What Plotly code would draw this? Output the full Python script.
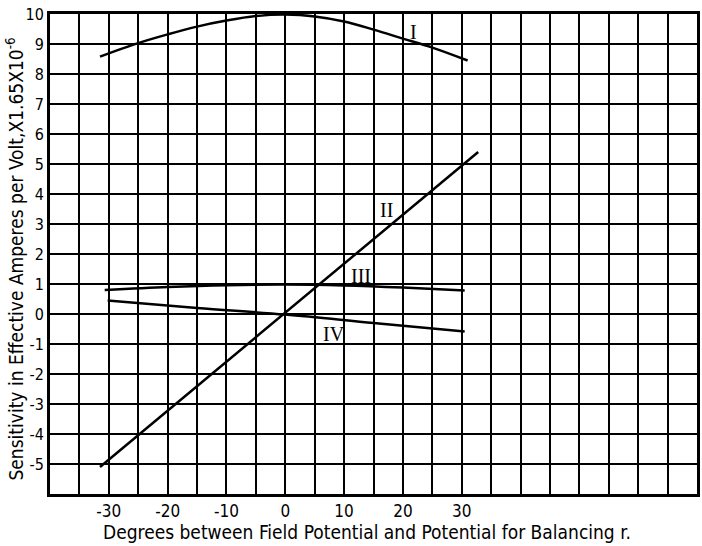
import plotly.graph_objects as go

# Sensitivity curves vs. phase angle (degrees)
curve_I_x = [-31.5, -25, -20, -15, -10, -5, 0, 5, 10, 15, 20, 25, 31]
curve_I_y = [8.58, 9.03, 9.32, 9.58, 9.78, 9.93, 9.98, 9.92, 9.75, 9.48, 9.18, 8.88, 8.45]

curve_II_x = [-31.5, 32.8]
curve_II_y = [-5.1, 5.4]

curve_III_x = [-30.7, -20, -10, 0, 10, 20, 30.5]
curve_III_y = [0.8, 0.9, 0.96, 0.98, 0.95, 0.88, 0.78]

curve_IV_x = [-30.2, -15, 0, 15, 30.5]
curve_IV_y = [0.45, 0.2, -0.02, -0.3, -0.58]

curve_names = ["I", "II", "III", "IV"]
label_x = [21.8, 17.2, 12.9, 8.2]
label_y = [9.4, 3.47, 1.28, -0.67]

x_grid = list(range(-40, 71, 5))
x_labels = {-30: "-30", -20: "-20", -10: "-10", 0: "0", 10: "10", 20: "20", 30: "30"}
y_grid = list(range(-6, 11))
y_labels = {v: str(v) for v in range(-5, 11)}

sans = "DejaVu Sans Condensed, Liberation Sans Narrow, Roboto, sans-serif"

fig = go.Figure()
for xs, ys in [(curve_I_x, curve_I_y), (curve_II_x, curve_II_y),
               (curve_III_x, curve_III_y), (curve_IV_x, curve_IV_y)]:
    fig.add_trace(go.Scatter(x=xs, y=ys, mode="lines",
                             line=dict(color="black", width=2.5, shape="spline"),
                             showlegend=False, hoverinfo="skip"))

for name, lx, ly in zip(curve_names, label_x, label_y):
    fig.add_annotation(x=lx, y=ly, text=name, showarrow=False,
                       font=dict(family="Liberation Serif, DejaVu Serif, serif",
                                 size=20, color="black"))

fig.add_annotation(xref="paper", yref="paper", x=-0.0545, y=0.49,
                   text="Sensitivity in Effective Amperes per Volt,X1.65X10<sup>-6</sup>",
                   textangle=-90, showarrow=False, xanchor="center", yanchor="middle",
                   font=dict(family=sans, size=19, color="black"))
fig.add_annotation(xref="paper", yref="paper", x=0.49, y=-0.08,
                   text="Degrees between Field Potential and Potential for Balancing r.",
                   showarrow=False, xanchor="center", yanchor="middle",
                   font=dict(family=sans, size=19, color="black"))

fig.update_layout(
    width=702, height=546,
    margin=dict(l=50, r=2, t=14, b=52),
    paper_bgcolor="white", plot_bgcolor="white",
    xaxis=dict(range=[-40, 70], tickvals=x_grid,
               ticktext=[x_labels.get(v, "") for v in x_grid],
               showgrid=True, gridcolor="black", gridwidth=1.5,
               zeroline=False, showline=True, linecolor="black", linewidth=3,
               mirror=True, ticks="", tickfont=dict(family=sans, size=17, color="black"),
               fixedrange=True),
    yaxis=dict(range=[-6, 10], tickvals=y_grid,
               ticktext=[y_labels.get(v, "") for v in y_grid],
               showgrid=True, gridcolor="black", gridwidth=1.5,
               zeroline=False, showline=True, linecolor="black", linewidth=3,
               mirror=True, ticks="", tickfont=dict(family=sans, size=16, color="black"),
               fixedrange=True),
)

fig.write_html("out.html")
